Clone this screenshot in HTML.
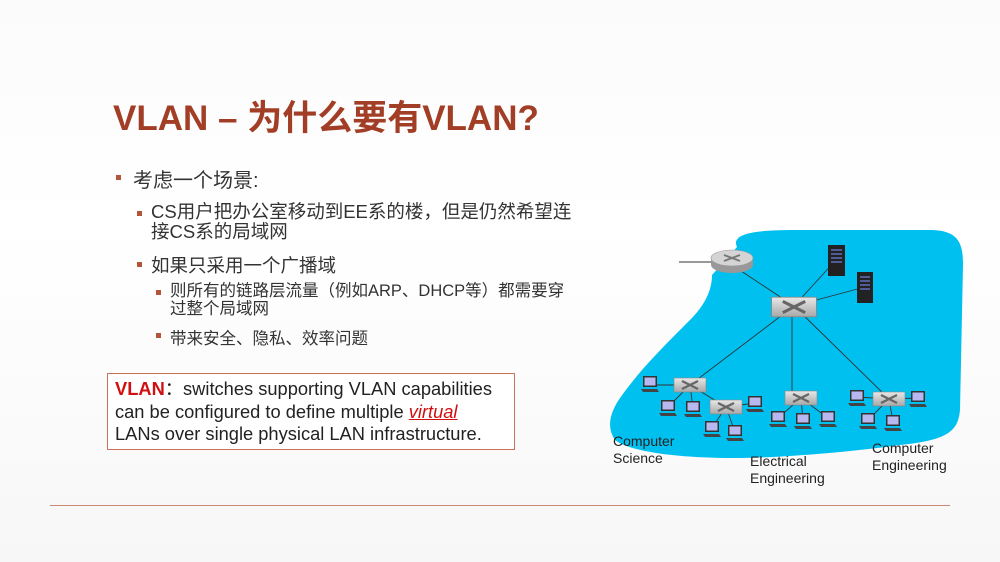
<!DOCTYPE html>
<html><head><meta charset="utf-8"><style>
html,body{margin:0;padding:0}
body{width:1000px;height:562px;position:relative;overflow:hidden;background:linear-gradient(#fbfbfb,#ffffff 40%,#f7f7f7);font-family:"Liberation Sans","Noto Sans CJK SC",sans-serif}
.t{position:absolute;white-space:nowrap}
h1{position:absolute;left:113px;top:90px;margin:0;font-size:35px;font-weight:bold;color:#a23e26;font-family:"Liberation Sans","Noto Sans CJK SC",sans-serif}
.b{position:absolute;width:5px;height:5px;background:#b2553a}
.c{color:#333}
</style></head><body>
<h1>VLAN – 为什么要有VLAN?</h1>
<div class="b" style="left:116px;top:175px"></div>
<div class="t c" style="left:133px;top:164px;font-size:20px">考虑一个场景:</div>
<div class="b" style="left:137px;top:211px"></div>
<div class="t c" style="left:151px;top:202px;font-size:18.5px;line-height:20px">CS用户把办公室移动到EE系的楼，但是仍然希望连<br>接CS系的局域网</div>
<div class="b" style="left:137px;top:262px"></div>
<div class="t c" style="left:151px;top:252px;font-size:18.5px">如果只采用一个广播域</div>
<div class="b" style="left:156px;top:290px"></div>
<div class="t c" style="left:170px;top:282px;font-size:16.5px;line-height:18px">则所有的链路层流量（例如ARP、DHCP等）都需要穿<br>过整个局域网</div>
<div class="b" style="left:156px;top:333px"></div>
<div class="t c" style="left:170px;top:325px;font-size:16.5px">带来安全、隐私、效率问题</div>
<div style="position:absolute;left:107px;top:373px;width:406px;height:75px;border:1.5px solid #c9705a;background:#fff"></div>
<div class="t" style="left:115px;top:378px;font-size:18.3px;line-height:22.5px;color:#222"><b style="color:#d01010">VLAN</b>：switches supporting VLAN capabilities<br>can be configured to define multiple <i style="color:#d01010;text-decoration:underline">virtual</i><br>LANs over single physical LAN infrastructure.</div>
<div style="position:absolute;left:50px;top:505px;width:900px;height:1px;background:#c58a70"></div>
<svg width="1000" height="562" style="position:absolute;left:0;top:0">
<defs>
<linearGradient id="sw" x1="0" y1="0" x2="0" y2="1"><stop offset="0" stop-color="#e8e8e8"/><stop offset="1" stop-color="#a8a8a8"/></linearGradient>
<g id="pc"><rect x="-7" y="-7" width="14" height="11" fill="#333"/><rect x="-5.5" y="-5.5" width="11" height="8" fill="#b8b8f0"/><polygon points="-9,6 7,6 9,9 -7,9" fill="#444"/></g>
<g id="s"><rect x="-16" y="-7" width="32" height="14" fill="url(#sw)" stroke="#888" stroke-width="0.6"/><path d="M-8,-4 L8,4 M-8,4 L8,-4" stroke="#666" stroke-width="2.2"/></g>
</defs>
<path d="M737,247 C730,232 760,230 800,230 L930,230 C960,230 963,245 963,265 L960,410 C958,430 950,440 900,445 C850,452 780,458 733,458 C680,458 630,452 615,440 C605,425 612,410 620,398 C640,370 660,350 690,320 C705,305 712,290 712,275 L737,247 Z" fill="#00c0f0"/>
<g stroke="#333" stroke-width="0.9" fill="none">
<line x1="679" y1="262" x2="712" y2="262"/>
<line x1="732" y1="265" x2="794" y2="306"/>
<line x1="836" y1="260" x2="794" y2="306"/>
<line x1="865" y1="287" x2="794" y2="306"/>
<line x1="794" y1="306" x2="690" y2="385"/>
<line x1="792" y1="306" x2="792" y2="398"/>
<line x1="794" y1="306" x2="889" y2="399"/>
<line x1="690" y1="385" x2="726" y2="407"/>
<line x1="650" y1="385" x2="690" y2="385"/>
<line x1="690" y1="385" x2="668" y2="407"/><line x1="690" y1="385" x2="693" y2="408"/>
<line x1="726" y1="407" x2="712" y2="428"/><line x1="726" y1="407" x2="735" y2="432"/><line x1="726" y1="407" x2="755" y2="403"/>
<line x1="801" y1="398" x2="778" y2="418"/><line x1="801" y1="398" x2="803" y2="420"/><line x1="801" y1="398" x2="828" y2="418"/>
<line x1="889" y1="399" x2="857" y2="397"/><line x1="889" y1="399" x2="918" y2="398"/><line x1="889" y1="399" x2="868" y2="420"/><line x1="889" y1="399" x2="893" y2="422"/>
</g>
<ellipse cx="732" cy="265" rx="21" ry="8" fill="#999"/>
<rect x="711" y="258" width="42" height="7" fill="#999"/>
<ellipse cx="732" cy="258" rx="21" ry="8" fill="#d4d4d4" stroke="#999" stroke-width="0.6"/>
<path d="M724,255 L740,261 M724,261 L740,255" stroke="#777" stroke-width="2"/>
<rect x="828" y="245" width="17" height="31" fill="#222"/><path d="M831,250h11M831,254h11M831,258h11M831,262h11" stroke="#6070c0" stroke-width="1.5"/>
<rect x="857" y="272" width="16" height="31" fill="#222"/><path d="M860,277h10M860,281h10M860,285h10M860,289h10" stroke="#6070c0" stroke-width="1.5"/>
<g transform="translate(794,307) scale(1.4)"><use href="#s"/></g>
<use href="#s" x="690" y="385"/><use href="#s" x="726" y="407"/><use href="#s" x="801" y="398"/><use href="#s" x="889" y="399"/>
<use href="#pc" x="650" y="383"/><use href="#pc" x="668" y="407"/><use href="#pc" x="693" y="408"/><use href="#pc" x="712" y="428"/><use href="#pc" x="735" y="432"/><use href="#pc" x="755" y="403"/>
<use href="#pc" x="778" y="418"/><use href="#pc" x="803" y="420"/><use href="#pc" x="828" y="418"/>
<use href="#pc" x="857" y="397"/><use href="#pc" x="918" y="398"/><use href="#pc" x="868" y="420"/><use href="#pc" x="893" y="422"/>
<g font-family="Liberation Sans,sans-serif" font-size="14" fill="#222">
<text x="613" y="446">Computer</text><text x="613" y="463">Science</text>
<text x="750" y="466">Electrical</text><text x="750" y="483">Engineering</text>
<text x="872" y="453">Computer</text><text x="872" y="470">Engineering</text>
</g>
</svg>
</body></html>
